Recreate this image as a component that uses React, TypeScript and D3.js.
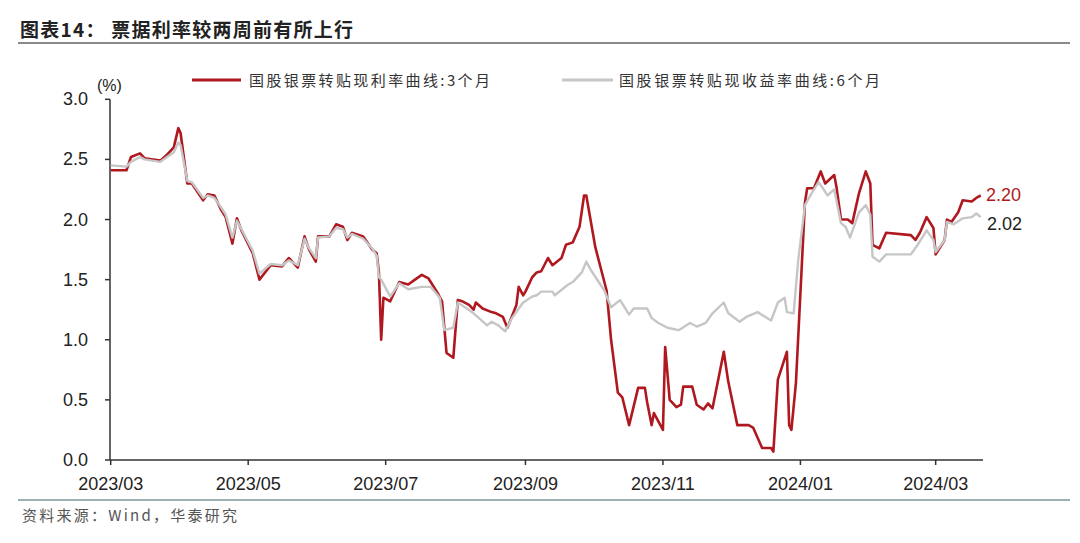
import React from "react";
import * as d3 from "d3";

const titleText = "图表14：  票据利率较两周前有所上行";
const legendRed = "国股银票转贴现利率曲线:3个月";
const legendGray = "国股银票转贴现收益率曲线:6个月";
const sourceText = "资料来源：Wind，华泰研究";

const yTicks = [0, 0.5, 1.0, 1.5, 2.0, 2.5, 3.0];
const xTickDates = ["2023-03-01", "2023-05-01", "2023-07-01", "2023-09-01", "2023-11-01", "2024-01-01", "2024-03-01"];

const redDates = [
  "2023-03-01","2023-03-08","2023-03-10","2023-03-14","2023-03-16","2023-03-23","2023-03-26","2023-03-29","2023-03-31","2023-04-01",
  "2023-04-04","2023-04-06","2023-04-11","2023-04-13","2023-04-16","2023-04-19","2023-04-21","2023-04-24","2023-04-26","2023-04-28",
  "2023-05-03","2023-05-06","2023-05-11","2023-05-16","2023-05-19","2023-05-23","2023-05-26","2023-05-28","2023-05-31","2023-06-01",
  "2023-06-06","2023-06-09","2023-06-12","2023-06-14","2023-06-16","2023-06-21","2023-06-25","2023-06-27","2023-06-28","2023-06-29",
  "2023-06-30","2023-07-03","2023-07-07","2023-07-11","2023-07-14","2023-07-17","2023-07-20","2023-07-24","2023-07-26","2023-07-28",
  "2023-07-31","2023-08-02","2023-08-04","2023-08-07","2023-08-09","2023-08-10","2023-08-13","2023-08-17","2023-08-19","2023-08-22",
  "2023-08-24","2023-08-28","2023-08-29","2023-08-31","2023-09-01","2023-09-04","2023-09-06","2023-09-08","2023-09-11","2023-09-13",
  "2023-09-17","2023-09-19","2023-09-22","2023-09-25","2023-09-27","2023-09-28","2023-10-02","2023-10-07","2023-10-09","2023-10-12",
  "2023-10-14","2023-10-17","2023-10-21","2023-10-24","2023-10-25","2023-10-27","2023-10-28","2023-11-01","2023-11-02","2023-11-04",
  "2023-11-07","2023-11-09","2023-11-10","2023-11-14","2023-11-16","2023-11-19","2023-11-21","2023-11-23","2023-11-28","2023-11-30",
  "2023-12-04","2023-12-09","2023-12-11","2023-12-15","2023-12-19","2023-12-20","2023-12-22","2023-12-26","2023-12-27","2023-12-28",
  "2023-12-30","2024-01-03","2024-01-04","2024-01-07","2024-01-10","2024-01-12","2024-01-16","2024-01-17","2024-01-19","2024-01-22",
  "2024-01-24","2024-01-27","2024-01-30","2024-02-01","2024-02-02","2024-02-05","2024-02-08","2024-02-19","2024-02-21","2024-02-23",
  "2024-02-26","2024-02-29","2024-03-01","2024-03-05","2024-03-06","2024-03-08","2024-03-11","2024-03-13","2024-03-17","2024-03-19",
  "2024-03-21"
];
const redValues = [
  2.41,2.41,2.52,2.55,2.51,2.49,2.54,2.60,2.76,2.72,
  2.30,2.30,2.16,2.21,2.20,2.08,2.02,1.80,2.01,1.91,
  1.72,1.50,1.62,1.61,1.68,1.60,1.86,1.75,1.65,1.86,
  1.86,1.96,1.94,1.83,1.89,1.86,1.75,1.72,1.56,1.00,
  1.35,1.32,1.48,1.46,1.50,1.54,1.51,1.39,1.32,0.89,
  0.85,1.33,1.32,1.29,1.25,1.31,1.26,1.23,1.22,1.19,
  1.10,1.29,1.44,1.37,1.40,1.52,1.56,1.57,1.68,1.62,
  1.68,1.79,1.81,1.94,2.20,2.20,1.77,1.41,1.00,0.56,
  0.52,0.29,0.60,0.60,0.48,0.29,0.39,0.25,0.94,0.50,
  0.44,0.46,0.61,0.61,0.46,0.42,0.47,0.43,0.90,0.65,
  0.29,0.29,0.27,0.10,0.10,0.07,0.67,0.90,0.29,0.25,
  0.64,2.14,2.26,2.26,2.40,2.30,2.37,2.27,2.00,2.00,
  1.97,2.22,2.40,2.30,1.79,1.76,1.89,1.87,1.83,1.89,
  2.02,1.93,1.71,1.83,2.00,1.98,2.06,2.16,2.15,2.18,
  2.20
];

const grayDates = [
  "2023-03-01","2023-03-08","2023-03-10","2023-03-14","2023-03-16","2023-03-23","2023-03-26","2023-03-29","2023-03-31","2023-04-01",
  "2023-04-04","2023-04-06","2023-04-11","2023-04-13","2023-04-16","2023-04-19","2023-04-21","2023-04-24","2023-04-26","2023-04-28",
  "2023-05-03","2023-05-06","2023-05-11","2023-05-16","2023-05-19","2023-05-23","2023-05-26","2023-05-28","2023-05-31","2023-06-01",
  "2023-06-06","2023-06-09","2023-06-12","2023-06-14","2023-06-16","2023-06-21","2023-06-25","2023-06-27","2023-06-28","2023-06-29",
  "2023-07-03","2023-07-07","2023-07-11","2023-07-17","2023-07-21","2023-07-25","2023-07-27","2023-07-31","2023-08-02","2023-08-06",
  "2023-08-09","2023-08-15","2023-08-17","2023-08-20","2023-08-23","2023-08-26","2023-08-31","2023-09-04","2023-09-06","2023-09-08",
  "2023-09-13","2023-09-14","2023-09-20","2023-09-22","2023-09-26","2023-09-28","2023-09-30","2023-10-06","2023-10-09","2023-10-13",
  "2023-10-17","2023-10-19","2023-10-25","2023-10-27","2023-10-30","2023-11-03","2023-11-08","2023-11-13","2023-11-16","2023-11-20",
  "2023-11-23","2023-11-28","2023-11-30","2023-12-05","2023-12-08","2023-12-13","2023-12-19","2023-12-22","2023-12-25","2023-12-26",
  "2023-12-29","2023-12-31","2024-01-03","2024-01-06","2024-01-09","2024-01-11","2024-01-13","2024-01-16","2024-01-19","2024-01-21",
  "2024-01-23","2024-01-27","2024-01-30","2024-02-01","2024-02-02","2024-02-05","2024-02-08","2024-02-19","2024-02-22","2024-02-26",
  "2024-02-29","2024-03-01","2024-03-05","2024-03-06","2024-03-09","2024-03-13","2024-03-17","2024-03-19","2024-03-21"
];
const grayValues = [
  2.45,2.44,2.48,2.52,2.50,2.48,2.52,2.56,2.64,2.62,
  2.32,2.31,2.18,2.20,2.18,2.10,2.04,1.85,1.99,1.92,
  1.74,1.55,1.63,1.62,1.66,1.62,1.84,1.76,1.68,1.85,
  1.86,1.93,1.92,1.85,1.88,1.84,1.76,1.70,1.52,1.50,
  1.36,1.47,1.42,1.44,1.44,1.35,1.08,1.10,1.31,1.26,
  1.22,1.12,1.15,1.12,1.07,1.18,1.31,1.36,1.37,1.40,
  1.40,1.37,1.46,1.48,1.56,1.65,1.58,1.41,1.27,1.33,
  1.21,1.26,1.26,1.18,1.14,1.10,1.08,1.14,1.11,1.14,
  1.22,1.31,1.22,1.15,1.19,1.23,1.16,1.31,1.35,1.23,
  1.22,1.66,2.12,2.22,2.31,2.26,2.20,2.25,1.97,1.94,
  1.85,2.06,2.12,2.04,1.69,1.65,1.71,1.71,1.79,1.91,
  1.83,1.73,1.83,1.98,1.96,2.01,2.02,2.05,2.02
];

const RED = "#b01820";
const GRAY = "#c6c6c6";
const parse = d3.timeParse("%Y-%m-%d");

export default function App() {
  const x = d3.scaleTime()
    .domain([parse("2023-03-01") as Date, parse("2024-03-22") as Date])
    .range([110.7, 983]);
  const y = d3.scaleLinear().domain([0, 3]).range([460, 99.3]);

  const redData = redDates.map((d, i) => ({ d: parse(d) as Date, v: redValues[i] }));
  const grayData = grayDates.map((d, i) => ({ d: parse(d) as Date, v: grayValues[i] }));
  const line = d3.line<{ d: Date; v: number }>().x((p) => x(p.d)).y((p) => y(p.v));
  const fmtY = d3.format(".1f");
  const fmtX = d3.timeFormat("%Y/%m");

  const lastRed = redData[redData.length - 1];
  const lastGray = grayData[grayData.length - 1];
  const font = "'Liberation Sans', Arial, sans-serif";
  const cjk = "'Noto Sans CJK SC', 'Noto Sans', sans-serif";

  return (
    <svg width={1080} height={543} style={{ position: "absolute", left: 0, top: 0, background: "#fff" }}>
      <rect x={0} y={0} width={1080} height={543} fill="#fff" />
      <text x={20} y={37} fontFamily={cjk} fontWeight={700} fontSize={19} fill="#222" textLength={333} lengthAdjust="spacing">
        {titleText}
      </text>
      <line x1={18} x2={1070} y1={43} y2={43} stroke="#8a8a8a" strokeWidth={2} />

      {/* legend */}
      <line x1={192} x2={241} y1={80} y2={80} stroke={RED} strokeWidth={3} />
      <text x={249} y={86} fontFamily={cjk} fontSize={15} fill="#333" textLength={241} lengthAdjust="spacing">{legendRed}</text>
      <line x1={562} x2={613} y1={80} y2={80} stroke={GRAY} strokeWidth={3} />
      <text x={619} y={86} fontFamily={cjk} fontSize={15} fill="#333" textLength={261} lengthAdjust="spacing">{legendGray}</text>

      {/* y axis */}
      <text x={97} y={91} fontFamily={font} fontSize={16} fill="#222">(%)</text>
      <line x1={110} x2={110} y1={y(3)} y2={y(0)} stroke="#333" strokeWidth={1.5} />
      {yTicks.map((t) => (
        <g key={t}>
          <line x1={105} x2={110} y1={y(t)} y2={y(t)} stroke="#333" strokeWidth={1.5} />
          <text x={88} y={y(t) + 6} textAnchor="end" fontFamily={font} fontSize={18} fill="#222">{fmtY(t)}</text>
        </g>
      ))}

      {/* x axis */}
      <line x1={110} x2={983} y1={y(0)} y2={y(0)} stroke="#333" strokeWidth={1.5} />
      {xTickDates.map((s) => {
        const d = parse(s) as Date;
        return (
          <g key={s}>
            <line x1={x(d)} x2={x(d)} y1={y(0)} y2={y(0) + 5} stroke="#333" strokeWidth={1.5} />
            <text x={x(d)} y={490} textAnchor="middle" fontFamily={font} fontSize={18} fill="#222">{fmtX(d)}</text>
          </g>
        );
      })}

      {/* series */}
      <path d={line(redData) || ""} fill="none" stroke={RED} strokeWidth={2.6} strokeLinejoin="round" />
      <path d={line(grayData) || ""} fill="none" stroke={GRAY} strokeWidth={2.4} strokeLinejoin="round" />

      {/* end labels */}
      <text x={986} y={y(lastRed.v) + 6} fontFamily={font} fontSize={18} fill={RED}>{fmtEnd(lastRed.v)}</text>
      <text x={987} y={y(lastGray.v) + 13} fontFamily={font} fontSize={18} fill="#222">{fmtEnd(lastGray.v)}</text>

      <line x1={18} x2={1070} y1={500} y2={500} stroke="#9fb0b3" strokeWidth={2} />
      <text x={22} y={521} fontFamily={cjk} fontSize={15} fill="#555" textLength={215} lengthAdjust="spacing">{sourceText}</text>
    </svg>
  );
}

function fmtEnd(v: number) {
  return d3.format(".2f")(v);
}
